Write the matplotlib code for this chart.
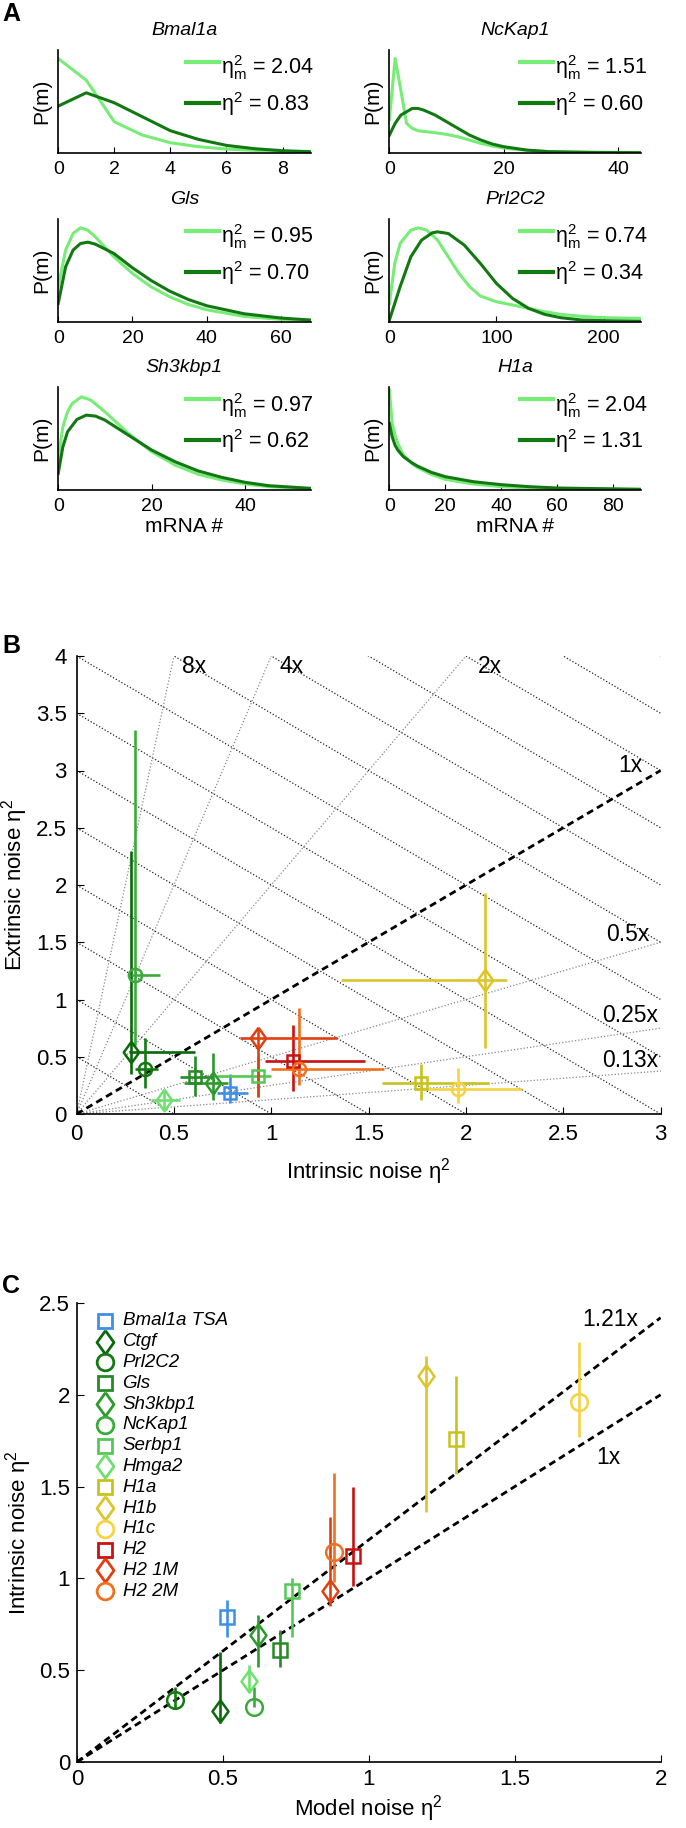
import numpy as np
import matplotlib
matplotlib.use('Agg')
import matplotlib.pyplot as plt
from matplotlib.ticker import FormatStrFormatter

plt.rcParams['font.family'] = ['Liberation Sans', 'DejaVu Sans']
plt.rcParams['mathtext.fontset'] = 'custom'
plt.rcParams['mathtext.rm'] = 'Liberation Sans'
plt.rcParams['mathtext.it'] = 'Liberation Sans:italic'
plt.rcParams['mathtext.default'] = 'regular'

# ---------------- panel A data (P(m), arbitrary units) ----------------
light = '#77ec77'
dark = '#127812'

a_titles = ['Bmal1a', 'NcKap1', 'Gls', 'Prl2C2', 'Sh3kbp1', 'H1a']
a_eta_m = ['2.04', '1.51', '0.95', '0.74', '0.97', '2.04']
a_eta = ['0.83', '0.60', '0.70', '0.34', '0.62', '1.31']
a_xlim = [9, 44, 68, 235, 54, 90]
a_xticks = [[0, 2, 4, 6, 8], [0, 20, 40], [0, 20, 40, 60], [0, 100, 200], [0, 20, 40], [0, 20, 40, 60, 80]]

bmal_x = [0, 1, 2, 3, 4, 5, 6, 7, 8, 9]
bmal_light = [283, 218, 93, 53, 30, 18, 11, 7, 4, 2]
bmal_dark = [140, 180, 150, 108, 66, 40, 22, 12, 6, 3]

nck_x_light = [0, 1, 2, 3, 4, 5, 8, 10, 12, 14, 16, 18, 20, 24, 28, 35, 44]
nck_light = [100, 283, 188, 88, 73, 66, 60, 55, 48, 38, 28, 20, 14, 7, 3, 1, 0]
nck_x_dark = [0, 1, 2, 4, 5, 6, 8, 10, 12, 14, 16, 18, 20, 24, 28, 35, 44]
nck_dark = [53, 88, 113, 133, 133, 128, 113, 93, 73, 53, 38, 26, 18, 8, 3, 1, 0]

gls_x = [0, 2, 4, 6, 8, 10, 15, 20, 25, 30, 35, 40, 50, 60, 68]
gls_light = [105, 215, 265, 282, 275, 255, 195, 145, 105, 75, 52, 36, 16, 7, 4]
gls_dark = [55, 165, 215, 235, 239, 233, 205, 162, 124, 92, 67, 48, 24, 11, 5]

prl_x_light = [0, 5, 10, 20, 27, 35, 45, 55, 65, 75, 85, 100, 120, 140, 160, 180, 200, 235]
prl_light = [55, 175, 235, 275, 282, 275, 245, 195, 145, 105, 77, 60, 47, 33, 22, 16, 12, 10]
prl_x_dark = [0, 10, 20, 30, 40, 45, 55, 70, 85, 100, 115, 130, 145, 160, 180, 200, 235]
prl_dark = [5, 105, 195, 245, 267, 270, 265, 230, 175, 115, 70, 40, 22, 12, 5, 3, 1]

sh3_x_light = [0, 1, 2, 3, 5, 7, 10, 15, 20, 25, 30, 35, 40, 45, 54]
sh3_light = [95, 190, 235, 260, 280, 270, 235, 170, 115, 75, 47, 30, 18, 10, 4]
sh3_x_dark = [0, 1, 2, 4, 6, 8, 10, 15, 20, 25, 30, 35, 40, 45, 54]
sh3_dark = [50, 130, 175, 212, 225, 222, 210, 165, 120, 85, 57, 38, 23, 13, 5]

h1a_x = [0, 1, 2, 3, 5, 8, 10, 15, 20, 30, 40, 50, 60, 90]
h1a_light = [300, 200, 165, 140, 105, 80, 68, 47, 32, 18, 10, 6, 4, 2]
h1a_dark = [200, 160, 135, 120, 100, 82, 72, 53, 40, 25, 16, 10, 6, 2]

a_curves = [
    (bmal_x, bmal_light, bmal_x, bmal_dark),
    (nck_x_light, nck_light, nck_x_dark, nck_dark),
    (gls_x, gls_light, gls_x, gls_dark),
    (prl_x_light, prl_light, prl_x_dark, prl_dark),
    (sh3_x_light, sh3_light, sh3_x_dark, sh3_dark),
    (h1a_x, h1a_light, h1a_x, h1a_dark),
]

# ---------------- genes (panels B and C) ----------------
genes = ['Bmal1a TSA', 'Ctgf', 'Prl2C2', 'Gls', 'Sh3kbp1', 'NcKap1', 'Serbp1',
         'Hmga2', 'H1a', 'H1b', 'H1c', 'H2', 'H2 1M', 'H2 2M']
gene_colors = ['#3d8fe8', '#0b690b', '#137a13', '#268a26', '#2e9a2e', '#3aab3a', '#55c855',
               '#6fe06f', '#c8c21e', '#dcc52a', '#f5d342', '#cc1010', '#e04010', '#f07020']
gene_markers = ['s', 'D', 'o', 's', 'D', 'o', 's', 'D', 's', 'D', 'o', 's', 'D', 'o']

# panel B: intrinsic (x) vs extrinsic (y) noise with error ranges
b_int = [0.79, 0.28, 0.35, 0.61, 0.70, 0.30, 0.93, 0.45, 1.77, 2.10, 1.96, 1.11, 0.93, 1.14]
b_int_lo = [0.72, 0.27, 0.30, 0.53, 0.55, 0.28, 0.72, 0.38, 1.57, 1.36, 1.74, 0.97, 0.84, 1.00]
b_int_hi = [0.88, 0.61, 0.42, 0.70, 0.78, 0.43, 1.00, 0.53, 2.12, 2.21, 2.29, 1.48, 1.34, 1.58]
b_ext = [0.18, 0.54, 0.39, 0.32, 0.27, 1.21, 0.33, 0.12, 0.27, 1.17, 0.22, 0.46, 0.66, 0.39]
b_ext_lo = [0.10, 0.35, 0.23, 0.16, 0.12, 0.60, 0.15, 0.04, 0.12, 0.58, 0.10, 0.20, 0.15, 0.25]
b_ext_hi = [0.35, 2.30, 0.66, 0.51, 0.53, 3.35, 0.50, 0.20, 0.44, 1.93, 0.40, 0.78, 0.75, 0.93]

b_ratios = [8, 4, 2, 0.5, 0.25, 0.125]
b_totals = np.arange(0.5, 7.01, 0.5)
b_ratio_labels = [('8x', 0.54, 3.91), ('4x', 1.04, 3.91), ('2x', 2.06, 3.91), ('1x', 2.78, 3.04),
                  ('0.5x', 2.72, 1.57), ('0.25x', 2.70, 0.86), ('0.13x', 2.70, 0.47)]

# panel C: model noise (x) vs intrinsic noise (y)
c_model = [0.513, 0.49, 0.335, 0.695, 0.62, 0.605, 0.737, 0.59, 1.30, 1.195, 1.72, 0.945, 0.867, 0.88]
c_int = [0.79, 0.28, 0.34, 0.61, 0.69, 0.30, 0.93, 0.44, 1.76, 2.10, 1.96, 1.12, 0.93, 1.145]
c_int_lo = [0.68, 0.21, 0.29, 0.52, 0.52, 0.30, 0.68, 0.38, 1.57, 1.36, 1.77, 0.96, 0.85, 0.98]
c_int_hi = [0.88, 0.60, 0.41, 0.72, 0.80, 0.41, 1.00, 0.53, 2.10, 2.21, 2.29, 1.50, 1.335, 1.576]
c_slopes = [1.21, 1.0]
c_slope_labels = [('1.21x', 1.73, 2.41), ('1x', 1.78, 1.66)]

diamond = [(0, 1), (0.72, 0), (0, -1), (-0.72, 0), (0, 1)]


def mk(m):
    return diamond if m == 'D' else m


def msize(m, circ, sq, dia):
    return {'o': circ, 's': sq, 'D': dia}[m]


H = 1828.0
W = 686.0
fig = plt.figure(figsize=(6.86, 18.28), dpi=100)

# ---------------- panel A ----------------
col_left = [58.2, 389.4]
col_w = [252.4, 251.6]
row_bottom = [152.7, 321.7, 490.0]
row_h = 102.5
leg_x = [(0.506, 0.637, 0.645), (0.52, 0.65, 0.659)]
for i in range(6):
    r, c = i // 2, i % 2
    ax = fig.add_axes([col_left[c] / W, 1 - row_bottom[r] / H, col_w[c] / W, row_h / H])
    xl, yl, xd, yd = a_curves[i]
    ax.plot(xl, yl, color=light, lw=2.2)
    ax.plot(xd, yd, color=dark, lw=2.2)
    ax.set_xlim(0, a_xlim[i])
    ax.set_ylim(0, 308)
    ax.set_xticks(a_xticks[i])
    ax.set_yticks([])
    ax.tick_params(direction='in', length=4, labelsize=14, pad=6)
    for s in ['top', 'right']:
        ax.spines[s].set_visible(False)
    for s in ['left', 'bottom']:
        ax.spines[s].set_linewidth(1.2)
    ax.set_title(a_titles[i], style='italic', fontsize=14, pad=11)
    ax.set_ylabel('P(m)', fontsize=15, labelpad=5)
    if r == 2:
        ax.set_xlabel('mRNA #', fontsize=15, labelpad=1)
    x0, x1, xt = leg_x[c]
    for (ly, by, col, lab) in [(0.886, 0.765, light, 'η$^2_m$ = ' + a_eta_m[i]),
                               (0.487, 0.41, dark, 'η$^2$ = ' + a_eta[i])]:
        ax.plot([x0, x1], [ly, ly], color=col, lw=3, transform=ax.transAxes, clip_on=False)
        ax.text(xt, by, lab, transform=ax.transAxes, fontsize=15.5, va='baseline', ha='left')

# ---------------- panel B ----------------
axb = fig.add_axes([76.6 / W, 1 - 1114 / H, 584.0 / W, (1114 - 656) / H])
for t in b_totals:
    axb.plot([0, t], [t, 0], color='#222222', lw=0.9, ls=(0, (1, 1.6)), zorder=1)
for k in b_ratios:
    axb.plot([0, 4], [0, 4 * k], color='#888888', lw=0.9, ls=(0, (1, 1.6)), zorder=1)
axb.plot([0, 3], [0, 3], color='black', lw=2, ls=(0, (2.5, 1.6)), zorder=2)
for txt, tx, ty in b_ratio_labels:
    axb.text(tx, ty, txt, fontsize=16.5, va='center', ha='left', zorder=3)

for i in range(len(genes)):
    m = gene_markers[i]
    axb.errorbar(b_int[i], b_ext[i],
                 xerr=[[b_int[i] - b_int_lo[i]], [b_int_hi[i] - b_int[i]]],
                 yerr=[[b_ext[i] - b_ext_lo[i]], [b_ext_hi[i] - b_ext[i]]],
                 fmt='none', ecolor=gene_colors[i], elinewidth=1.9, capsize=0, zorder=4)
    axb.plot(b_int[i], b_ext[i], marker=mk(m), ms=msize(m, 9.5, 8.5, 15.5),
             mfc='none', mec=gene_colors[i], mew=1.8, ls='none', zorder=5)

axb.set_xlim(0, 3)
axb.set_ylim(0, 4)
axb.set_xticks(np.arange(0, 3.01, 0.5))
axb.set_yticks(np.arange(0, 4.01, 0.5))
axb.xaxis.set_major_formatter(FormatStrFormatter('%g'))
axb.yaxis.set_major_formatter(FormatStrFormatter('%g'))
axb.tick_params(direction='in', length=5, labelsize=16, pad=7)
for s in ['top', 'right']:
    axb.spines[s].set_visible(False)
for s in ['left', 'bottom']:
    axb.spines[s].set_linewidth(1.2)
axb.set_xlabel('Intrinsic noise η$^2$', fontsize=16, labelpad=8)
axb.set_ylabel('Extrinsic noise η$^2$', fontsize=16, labelpad=4)

# ---------------- panel C ----------------
axc = fig.add_axes([77.0 / W, 1 - 1762 / H, 583.6 / W, (1762 - 1303) / H])
for k in c_slopes:
    axc.plot([0, 2], [0, 2 * k], color='black', lw=2, ls=(0, (2.5, 1.6)), zorder=2)
for txt, tx, ty in c_slope_labels:
    axc.text(tx, ty, txt, fontsize=16.5, va='center', ha='left')

for i in range(len(genes)):
    m = gene_markers[i]
    axc.errorbar(c_model[i], c_int[i],
                 yerr=[[c_int[i] - c_int_lo[i]], [c_int_hi[i] - c_int[i]]],
                 fmt='none', ecolor=gene_colors[i], elinewidth=1.9, capsize=0, zorder=4)
    axc.plot(c_model[i], c_int[i], marker=mk(m), ms=msize(m, 12, 10, 16),
             mfc='none', mec=gene_colors[i], mew=1.8, ls='none', zorder=5)
    # legend entry, drawn by hand in axes coordinates
    ly = 0.961 - i * 0.0453
    axc.plot(0.048, ly, marker=mk(m), ms=msize(m, 12, 9.5, 17), mfc='none',
             mec=gene_colors[i], mew=2, transform=axc.transAxes, clip_on=False)
    axc.text(0.078, ly, genes[i], style='italic', fontsize=13.5, va='center', ha='left',
             transform=axc.transAxes)

axc.set_xlim(0, 2)
axc.set_ylim(0, 2.5)
axc.set_xticks(np.arange(0, 2.01, 0.5))
axc.set_yticks(np.arange(0, 2.51, 0.5))
axc.xaxis.set_major_formatter(FormatStrFormatter('%g'))
axc.yaxis.set_major_formatter(FormatStrFormatter('%g'))
axc.tick_params(direction='in', length=5, labelsize=16, pad=5)
for s in ['top', 'right']:
    axc.spines[s].set_visible(False)
for s in ['left', 'bottom']:
    axc.spines[s].set_linewidth(1.2)
axc.set_xlabel('Model noise η$^2$', fontsize=16, labelpad=2)
axc.set_ylabel('Intrinsic noise η$^2$', fontsize=16, labelpad=4)

# panel letters
fig.text(0.003, 1 - 2 / H, 'A', fontsize=18, fontweight='bold', va='top')
fig.text(0.003, 1 - 634 / H, 'B', fontsize=18, fontweight='bold', va='top')
fig.text(0.003, 1 - 1274 / H, 'C', fontsize=18, fontweight='bold', va='top')

fig.savefig('out.png', dpi=100)
